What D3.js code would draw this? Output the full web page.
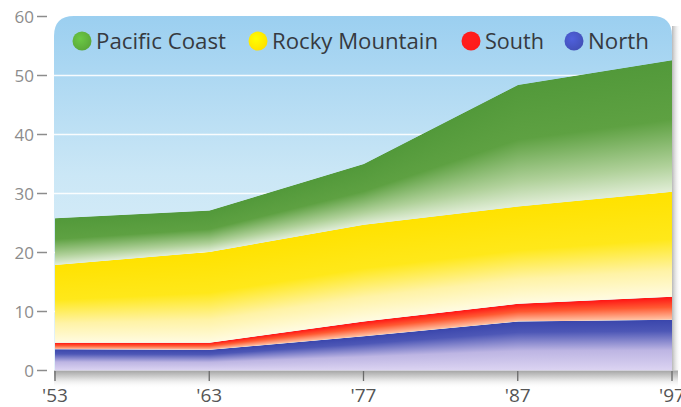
<!DOCTYPE html>
<html><head><meta charset="utf-8">
<script src="https://cdn.jsdelivr.net/npm/d3@7"></script>
<style>html,body{margin:0;padding:0;background:#fff;}svg{display:block;}</style>
</head><body>
<script>
// ---- data ----
const years = ["'53", "'63", "'77", "'87", "'97"];
const north = [3.6, 3.5, 5.8, 8.3, 8.6];
const south = [1.1, 1.2, 2.5, 3.0, 3.9];
const rocky = [13.2, 15.4, 16.4, 16.5, 17.8];
const pacific = [7.9, 7.0, 10.3, 20.6, 22.3];
const seriesNames = ["North", "South", "Rocky Mountain", "Pacific Coast"];
const yTicks = [0, 10, 20, 30, 40, 50, 60];
const legendOrder = ["Pacific Coast", "Rocky Mountain", "South", "North"];

const W = 681, H = 407;
const L = 54, R = 672, T = 16;
const x = d3.scalePoint().domain(years).range([55, 672]);
const y = d3.scaleLinear().domain([0, 60]).range([370.5, 16.5]);

const rows = years.map((yr, i) => ({year: yr, "North": north[i], "South": south[i], "Rocky Mountain": rocky[i], "Pacific Coast": pacific[i]}));
const stack = d3.stack().keys(seriesNames)(rows);

const svg = d3.select("body").append("svg").attr("width", W).attr("height", H);
const defs = svg.append("defs");

function lin(id, stops, attrs) {
  const g = defs.append("linearGradient").attr("id", id);
  Object.entries(attrs || {x1: 0, y1: 0, x2: 0, y2: 1}).forEach(([k, v]) => g.attr(k, v));
  stops.forEach(s => g.append("stop").attr("offset", s[0]).attr("stop-color", s[1]).attr("stop-opacity", s[2] == null ? 1 : s[2]));
  return "url(#" + id + ")";
}

const bandGrad = {
  "Pacific Coast": lin("gPac", [[0, "#52993a"], [0.45, "#5ea142"], [0.8, "#b0d19a"], [1, "#e2eed8"]]),
  "Rocky Mountain": lin("gRoc", [[0, "#ffe200"], [0.45, "#ffe81a"], [0.75, "#fff3a6"], [1, "#fffbe2"]]),
  "South": lin("gSou", [[0, "#ff1414"], [0.45, "#ff5a32"], [1, "#ffc6a8"]]),
  "North": lin("gNor", [[0, "#3a46ac"], [0.22, "#4d57b6"], [0.6, "#bdb5e3"], [1, "#dcd4f2"]])
};
const legendColor = {"Pacific Coast": "#5aa83a", "Rocky Mountain": "#ffe000", "South": "#ff1a1a", "North": "#4250b8"};

// sky background
const sky = lin("gSky", [[0, "#9bcff0"], [0.45, "#cbe7f6"], [1, "#e6f3fa"]], {gradientUnits: "userSpaceOnUse", x1: 0, y1: 16, x2: 0, y2: 370});
const rr = 20;
svg.append("path")
  .attr("d", `M${L},${y(0)} V${T + rr} Q${L},${T} ${L + rr},${T} H${R - rr} Q${R},${T} ${R},${T + rr} V${y(0)} Z`)
  .attr("fill", sky);

// right shadow and bottom shadow
const rsh = lin("gRsh", [[0, "#b8b8b8"], [1, "#ffffff", 0]], {x1: 0, y1: 0, x2: 1, y2: 0});
svg.append("rect").attr("x", R).attr("y", T + 10).attr("width", 9).attr("height", y(0) - T - 10).attr("fill", rsh);
const bsh = lin("gBsh", [[0, "#a4a4a4"], [0.4, "#d6d6d6"], [1, "#ffffff", 0]]);
svg.append("rect").attr("x", L).attr("y", y(0)).attr("width", R - L + 6).attr("height", 18).attr("fill", bsh);

// grid lines
svg.append("g").selectAll("line").data(yTicks.filter(d => d > 0 && d < 60)).join("line")
  .attr("x1", L).attr("x2", R).attr("y1", d => y(d)).attr("y2", d => y(d))
  .attr("stroke", "#ffffff").attr("stroke-width", 1.6).attr("stroke-opacity", 0.9);

// stacked areas: clipped to area path, filled with vertical strips so each column fades top->bottom
const area = d3.area().x(d => x(d.data.year)).y0(d => y(d[0])).y1(d => y(d[1]));
const xs = years.map(v => x(v));
function interp(layer, px, k) {
  let i = 0;
  while (i < xs.length - 2 && px > xs[i + 1]) i++;
  const t = Math.max(0, Math.min(1, (px - xs[i]) / (xs[i + 1] - xs[i])));
  return y(layer[i][k]) * (1 - t) + y(layer[i + 1][k]) * t;
}
stack.forEach((layer, li) => {
  const key = layer.key;
  const cid = "clip" + li;
  defs.append("clipPath").attr("id", cid).append("path").attr("d", area(layer));
  const g = svg.append("g").attr("clip-path", `url(#${cid})`);
  const cols = d3.range(xs[0], xs[xs.length - 1] + 1, 1);
  g.selectAll("rect").data(cols).join("rect")
    .attr("x", d => d - 0.2).attr("width", 1.4)
    .attr("y", d => interp(layer, d, 1))
    .attr("height", d => Math.max(0.5, interp(layer, d, 0) - interp(layer, d, 1)))
    .attr("fill", bandGrad[key]);
});

// y axis
const ya = svg.append("g");
yTicks.forEach(v => {
  ya.append("text").attr("x", 34).attr("y", y(v)).attr("dy", "0.36em").attr("text-anchor", "end")
    .attr("font-family", "Open Sans, sans-serif").attr("font-size", 17).attr("fill", "#8c8c8c").text(v);
  ya.append("line").attr("x1", 37).attr("x2", 47).attr("y1", y(v)).attr("y2", y(v))
    .attr("stroke", "#8c8c8c").attr("stroke-width", 1.5);
});

// x axis
const xa = svg.append("g");
years.forEach(v => {
  xa.append("line").attr("x1", x(v)).attr("x2", x(v)).attr("y1", 371).attr("y2", 381)
    .attr("stroke", "#6a6a6a").attr("stroke-width", 1.3);
  xa.append("text").attr("x", x(v)).attr("y", 402).attr("text-anchor", "middle")
    .attr("font-family", "Open Sans, sans-serif").attr("font-size", 19).attr("fill", "#555").text(v);
});

// legend
const legPos = {"Pacific Coast": [82, 130], "Rocky Mountain": [258, 166], "South": [471, 59], "North": [574, 61]};
legendOrder.forEach((name, i) => {
  const [cx, tw] = legPos[name];
  const rg = defs.append("radialGradient").attr("id", "lg" + i).attr("cx", 0.4).attr("cy", 0.38).attr("r", 0.65);
  rg.append("stop").attr("offset", 0).attr("stop-color", d3.color(legendColor[name]).brighter(0.5));
  rg.append("stop").attr("offset", 1).attr("stop-color", legendColor[name]);
  svg.append("circle").attr("cx", cx).attr("cy", 41).attr("r", 9.5).attr("fill", `url(#lg${i})`);
  svg.append("text").attr("x", cx + 14).attr("y", 48.5)
    .attr("font-family", "Open Sans, sans-serif").attr("font-size", 21).attr("font-weight", 500)
    .attr("fill", "#363a40").attr("textLength", tw).attr("lengthAdjust", "spacingAndGlyphs").text(name);
});
</script>
</body></html>
